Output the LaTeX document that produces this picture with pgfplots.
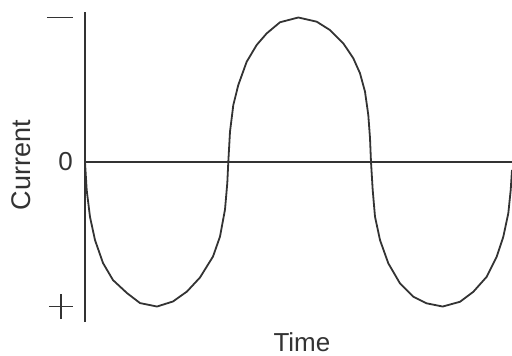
\documentclass[border=0pt]{standalone}
\usepackage{fontspec}
\setmainfont{Liberation Sans}
\usepackage{pgfplots}
\usepackage{pgfplotstable}
\pgfplotsset{compat=1.18}
\definecolor{ink}{HTML}{333333}
\newcommand{\dashsym}{\hbox{\vrule width 26bp height 0.9bp depth 0.9bp}}
\newcommand{\plussym}{\hbox to 24bp{\hss\vrule width 1.8bp height 12.5bp depth 12.5bp\hss}\llap{\vrule width 24bp height 0.9bp depth 0.9bp}}
\pgfplotstableread{
x y
0 0
1.7 -0.194
5 -0.380
10 -0.540
18 -0.699
28 -0.817
42 -0.907
55 -0.976
72 -1.0
88 -0.965
102 -0.896
115 -0.799
128 -0.654
135 -0.516
140 -0.329
142.3 -0.145
143.3 0
145 0.21
148.3 0.394
153.3 0.533
161.7 0.694
171.7 0.81
181.7 0.89
195 0.967
213.3 1.0
231.7 0.971
245 0.913
258.3 0.821
268.3 0.718
275 0.614
280 0.487
283.3 0.325
285 0.166
286 0
287.7 -0.194
290 -0.378
295 -0.540
303.3 -0.701
315 -0.840
328.3 -0.932
341.7 -0.978
357.7 -1.0
375 -0.967
388.3 -0.898
401.7 -0.794
411.7 -0.655
418.3 -0.517
423.3 -0.355
425.7 -0.194
427 -0.055
}\curvedata
\begin{document}
\begin{tikzpicture}
\begin{axis}[
  name=ax, scale only axis, width=427bp, height=310bp,
  xmin=0, xmax=427, ymin=-1.107, ymax=1.038,
  axis x line=middle, axis y line=left,
  axis line style={-, draw=ink, line width=1.4bp},
  every inner x axis line/.append style={-},
  every outer y axis line/.append style={-},
  xtick=\empty, ytick={-1,0,1}, yticklabels={\plussym,0,\dashsym},
  major tick length=0pt,
  yticklabel style={inner sep=0pt, xshift=-12bp, font=\fontsize{26bp}{30bp}\selectfont, text=ink},
  every axis x label/.style={at={(rel axis cs:0.508,0)}, anchor=base, yshift=-29.5bp, inner sep=0pt, font=\fontsize{26bp}{30bp}\selectfont, text=ink},
  every axis y label/.style={at={(rel axis cs:0,0.506)}, xshift=-63.5bp, rotate=90, anchor=center, inner sep=0pt, font=\fontsize{27bp}{30bp}\selectfont, text=ink},
  xlabel={Time}, ylabel={Current},
  clip=false,
]
\addplot[ink, line width=1.8bp, line join=round, mark=none] table[x=x,y=y] {\curvedata};
\end{axis}
\pgfresetboundingbox
\path (ax.south west) ++(-85bp,-34bp) coordinate (bl);
\path (ax.north east) ++(0,12bp) coordinate (tr);
\useasboundingbox (bl) rectangle (tr);
\end{tikzpicture}
\end{document}
